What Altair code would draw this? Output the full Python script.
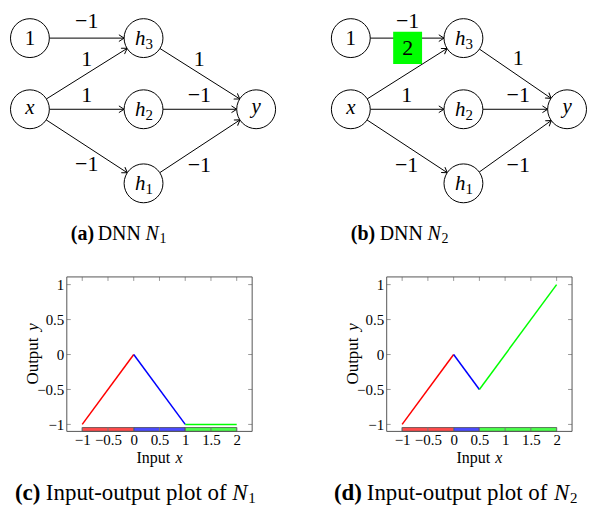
import math
import altair as alt
import pandas as pd

FONT = "Liberation Serif"

# ---------------- network diagrams (N1 and N2) ----------------
node_ids = ["b", "x", "h3", "h2", "h1", "y"]
node_main = ["1", "x", "h", "h", "h", "y"]
node_sub = ["", "", "3", "2", "1", ""]
node_italic = [False, True, True, True, True, True]

# drawing layout (picture pixels)
netA_x = [30, 30, 144, 144, 144, 257]
netA_y = [31, 104, 31, 104, 180, 104]
netB_x = [352, 352, 465, 465, 465, 569]
netB_y = [31, 104, 31, 104, 180, 104]

edge_src = ["b", "x", "x", "x", "h3", "h2", "h1"]
edge_dst = ["h3", "h3", "h2", "h1", "y", "y", "y"]
weights_N1 = ["−1", "1", "1", "−1", "1", "−1", "−1"]
weights_N2 = ["−1", "2", "1", "−1", "1", "−1", "−1"]
changed_N1 = [False] * 7
changed_N2 = [False, True, False, False, False, False, False]
wlabelA_x = [87, 87, 87, 87, 200, 200, 200]
wlabelA_y = [13, 52, 89, 160, 52, 89, 161]
wlabelB_x = [409, 409, 408, 408, 520, 520, 520]
wlabelB_y = [13, 41, 89, 161, 51, 89, 161]

captionA = [("(a)", "bold", 71), ("DNN", "normal", 98), ("N", "italic", 146), ("1", "sub", 160)]
captionB = [("(b)", "bold", 352), ("DNN", "normal", 381), ("N", "italic", 429), ("2", "sub", 443)]
caption_top_y = 232

# ---------------- input-output plots ----------------
plotC_x = [-1, 0, 1, 2]
plotC_y = [-1, 0, -1, -1]
plotD_x = [-1, 0, 0.5, 2]
plotD_y = [-1, 0, -0.5, 1]
segment_colors = ["#ff0000", "#0000ff", "#00ff00"]
x_ticks = [-1, -0.5, 0, 0.5, 1, 1.5, 2]
y_ticks = [-1, -0.5, 0, 0.5, 1]
x_domain = [-1.3, 2.3]
y_domain = [-1.1, 1.11]
bar_band = [-1.1, -1.045]

captionC = [("(c)", "bold", -52), ("Input-output plot of", "normal", -21), ("N", "italic", 166), ("1", "sub", 182)]
captionD = [("(d)", "bold", -53), ("Input-output plot of", "normal", -20), ("N", "italic", 168), ("2", "sub", 184)]

# ---------------- styles ----------------
R = 19.5
NODE_SIZE = 39 * 39
ARROW = "M-1.4,-0.9L0,0L-1.4,0.9"
BOX_W, BOX_H = 29, 33
ORIGIN_X = 67           # picture x where the panels' common origin sits
TOP_W, TOP_H = 589 - ORIGIN_X, 267
PW, PH = 186, 155
CAP_Y = 217

xs = alt.Scale(domain=[ORIGIN_X, 589], nice=False, zero=False)
ys = alt.Scale(domain=[2, 275], reverse=True, nice=False, zero=False)


def XY(xf="x", yf="y"):
    return dict(x=alt.X(f"{xf}:Q", scale=xs, axis=None), y=alt.Y(f"{yf}:Q", scale=ys, axis=None))


node_rows, edge_rows, label_rows, box_rows, cap_rows = [], [], [], [], []
for nxs, nys, w, lx, ly, ch, cap in (
    (netA_x, netA_y, weights_N1, wlabelA_x, wlabelA_y, changed_N1, captionA),
    (netB_x, netB_y, weights_N2, wlabelB_x, wlabelB_y, changed_N2, captionB),
):
    pos = {}
    for i, nid in enumerate(node_ids):
        pos[nid] = (nxs[i], nys[i])
        node_rows.append(dict(x=nxs[i], y=nys[i], main=node_main[i], sub=node_sub[i], it=node_italic[i]))
    for k in range(len(edge_src)):
        x1, y1 = pos[edge_src[k]]
        x2, y2 = pos[edge_dst[k]]
        dx, dy = x2 - x1, y2 - y1
        L = math.hypot(dx, dy)
        ux, uy = dx / L, dy / L
        edge_rows.append(dict(x=x1 + ux * R, y=y1 + uy * R, x2=x2 - ux * R, y2=y2 - uy * R,
                              ang=math.degrees(math.atan2(dy, dx)) % 360))
        label_rows.append(dict(x=lx[k], y=ly[k], t=w[k]))
        if ch[k]:
            box_rows.append(dict(x=lx[k] - BOX_W / 2, x2=lx[k] + BOX_W / 2,
                                 y=ly[k] - BOX_H / 2, y2=ly[k] + BOX_H / 2))
    for t, st, px in cap:
        cap_rows.append(dict(x=px, y=caption_top_y, t=t, st=st))

nodes = pd.DataFrame(node_rows)
edges = pd.DataFrame(edge_rows)
wlabels = pd.DataFrame(label_rows)
boxes = pd.DataFrame(box_rows)
caps = pd.DataFrame(cap_rows)

edge_layer = alt.Chart(edges).mark_rule(color="black", strokeWidth=1).encode(**XY(), x2="x2:Q", y2="y2:Q")
arrow_layer = alt.Chart(edges).mark_point(shape=ARROW, size=49, filled=False, color="black",
                                          strokeWidth=1, opacity=1, strokeCap="round").encode(
    **XY("x2", "y2"), angle=alt.Angle("ang:Q", scale=None))
node_layer = alt.Chart(nodes).mark_point(shape="circle", size=NODE_SIZE, filled=True, fill="white",
                                         stroke="black", strokeWidth=1, opacity=1).encode(**XY())
box_layer = alt.Chart(boxes).mark_rect(color="#00ff00").encode(**XY(), x2="x2:Q", y2="y2:Q")

h_layer = alt.Chart(nodes).transform_filter("datum.sub != ''").mark_text(
    font=FONT, fontSize=21, fontStyle="italic", align="right", baseline="alphabetic", dx=2, dy=7,
    color="black").encode(**XY(), text="main:N")
sub_layer = alt.Chart(nodes).transform_filter("datum.sub != ''").mark_text(
    font=FONT, fontSize=15, align="left", baseline="alphabetic", dx=2, dy=11,
    color="black").encode(**XY(), text="sub:N")
xlab_layer = alt.Chart(nodes).transform_filter("datum.main == 'x'").mark_text(
    font=FONT, fontSize=21, fontStyle="italic", align="center", baseline="alphabetic", dy=5,
    color="black").encode(**XY(), text="main:N")
ylab_layer = alt.Chart(nodes).transform_filter("datum.main == 'y'").mark_text(
    font=FONT, fontSize=21, fontStyle="italic", align="center", baseline="alphabetic", dy=4,
    color="black").encode(**XY(), text="main:N")
one_layer = alt.Chart(nodes).transform_filter("datum.main == '1'").mark_text(
    font=FONT, fontSize=21, align="center", baseline="alphabetic", dy=7,
    color="black").encode(**XY(), text="main:N")
wlab_layer = alt.Chart(wlabels).mark_text(font=FONT, fontSize=22, align="center", baseline="middle",
                                          color="black").encode(**XY(), text="t:N")


def cap_layers(df, size, subsize):
    out = []
    for st in ("bold", "normal", "italic", "sub"):
        kw = dict(font=FONT, fontSize=size, align="left", baseline="middle", color="black")
        if st == "bold":
            kw["fontWeight"] = "bold"
        if st == "italic":
            kw["fontStyle"] = "italic"
        if st == "sub":
            kw["fontSize"] = subsize
            kw["dy"] = 5
        out.append(alt.Chart(df).transform_filter(f"datum.st == '{st}'").mark_text(**kw).encode(**XY(), text="t:N"))
    return out


top = alt.layer(edge_layer, arrow_layer, node_layer, box_layer, h_layer, sub_layer, xlab_layer,
                ylab_layer, one_layer, wlab_layer, *cap_layers(caps, 20, 14)).properties(
    width=TOP_W, height=TOP_H)

one = pd.DataFrame({"k": [0]})


def txt(x, y, s, size, style="normal", weight="normal", angle=0, align="left"):
    return alt.Chart(one).mark_text(text=s, font=FONT, fontSize=size, fontStyle=style, fontWeight=weight,
                                    align=align, baseline="middle", angle=angle, color="black").encode(
        x=alt.value(x), y=alt.value(y))


AX_X = alt.Axis(values=x_ticks, format=".1~f", title=None, domain=False, ticks=False, grid=False,
                labelFont=FONT, labelFontSize=15, labelColor="black", labelPadding=1, labelOverlap=False)
AX_Y = alt.Axis(values=y_ticks, format=".1~f", title=None, domain=False, ticks=False, grid=False,
                labelFont=FONT, labelFontSize=15, labelColor="black", labelPadding=3, labelOverlap=False)


def plot_panel(px, py, caption, right_bound):
    xsc = alt.Scale(domain=x_domain, nice=False, zero=False)
    ysc = alt.Scale(domain=y_domain, nice=False, zero=False)
    seg_rows, bar_rows = [], []
    for i in range(len(px) - 1):
        for j in (i, i + 1):
            seg_rows.append(dict(x=px[j], y=py[j], seg=i, color=segment_colors[i]))
        bar_rows.append(dict(x0=px[i], x1=px[i + 1], b0=bar_band[0], b1=bar_band[1], color=segment_colors[i]))
    segs = pd.DataFrame(seg_rows)
    bars = pd.DataFrame(bar_rows)
    xt = pd.DataFrame({"v": x_ticks})
    yt = pd.DataFrame({"v": y_ticks})

    lines = alt.Chart(segs).mark_line(strokeWidth=1.5).encode(
        x=alt.X("x:Q", scale=xsc, axis=AX_X),
        y=alt.Y("y:Q", scale=ysc, axis=AX_Y),
        color=alt.Color("color:N", scale=None),
        detail="seg:N",
    )
    bar = alt.Chart(bars).mark_rect(fillOpacity=0.7, stroke="#222", strokeWidth=0.6).encode(
        x=alt.X("x0:Q", scale=xsc, axis=AX_X), x2="x1:Q",
        y=alt.Y("b0:Q", scale=ysc, axis=AX_Y), y2="b1:Q",
        fill=alt.Fill("color:N", scale=None))
    tick_l = alt.Chart(yt).mark_rule(color="#999", strokeWidth=1).encode(
        y=alt.Y("v:Q", scale=ysc, axis=AX_Y), x=alt.value(0), x2=alt.value(4))
    tick_r = alt.Chart(yt).mark_rule(color="#999", strokeWidth=1).encode(
        y=alt.Y("v:Q", scale=ysc, axis=AX_Y), x=alt.value(PW - 4), x2=alt.value(PW))
    tick_t = alt.Chart(xt).mark_rule(color="#999", strokeWidth=1).encode(
        x=alt.X("v:Q", scale=xsc, axis=AX_X), y=alt.value(0), y2=alt.value(4))
    tick_b = alt.Chart(xt).mark_rule(color="#777", strokeWidth=1).encode(
        x=alt.X("v:Q", scale=xsc, axis=AX_X), y=alt.value(PH - 4), y2=alt.value(PH))
    frame = alt.Chart(one).mark_rect(filled=False, stroke="#555", strokeWidth=1).encode(
        x=alt.value(0), x2=alt.value(PW), y=alt.value(0), y2=alt.value(PH))
    texts = [
        txt(70, 182, "Input", 16), txt(109, 182, "x", 16, style="italic"),
        txt(-34, 108, "Output", 17, angle=270), txt(-34, 54, "y", 17, style="italic", angle=270),
    ]
    for t, st, x in caption:
        if st == "bold":
            texts.append(txt(x, CAP_Y, t, 23, weight="bold"))
        elif st == "italic":
            texts.append(txt(x, CAP_Y, t, 23, style="italic"))
        elif st == "sub":
            texts.append(txt(x, CAP_Y + 5, t, 15))
        else:
            texts.append(txt(x, CAP_Y, t, 23))
    bounds = [alt.Chart(one).mark_point(filled=True, color="white", size=4, opacity=1).encode(
        x=alt.value(-58), y=alt.value(10))]
    if right_bound:
        bounds.append(alt.Chart(one).mark_point(filled=True, color="white", size=4, opacity=1).encode(
            x=alt.value(215), y=alt.value(10)))
    return alt.layer(lines, bar, tick_l, tick_r, tick_t, tick_b, frame, *texts, *bounds).properties(
        width=PW, height=PH)


plotC = plot_panel(plotC_x, plotC_y, captionC, True)
plotD = plot_panel(plotD_x, plotD_y, captionD, False)

row2 = alt.hconcat(plotC, plotD, spacing=46)
chart = alt.vconcat(top, row2, spacing=0).properties(
    padding=0, background="white").configure_view(stroke=None)

chart.save("out.html", embed_options={"renderer": "svg", "actions": False})
